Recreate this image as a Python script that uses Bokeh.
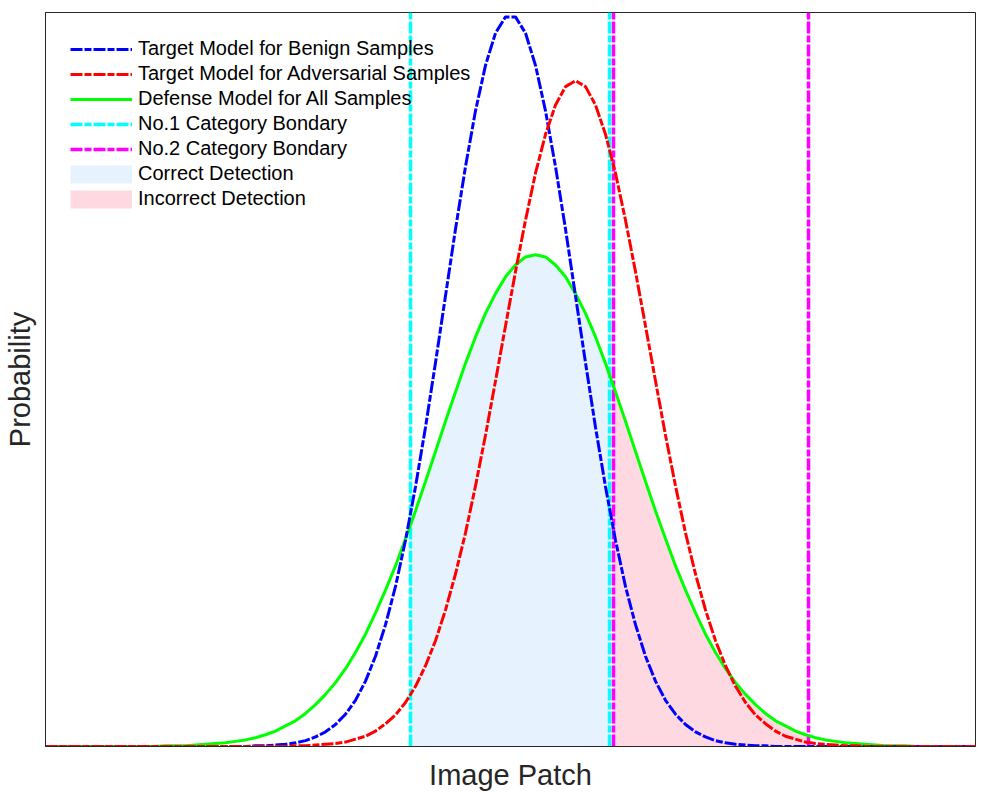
import numpy as np
from bokeh.plotting import figure
from bokeh.models import Range1d, Legend, LegendItem, FixedTicker
from bokeh.embed import file_html
from bokeh.resources import INLINE

# x positions (image patch index, arbitrary units)
x = list(range(0, 94))

benign = [0.0]*21 + [0.001, 0.001, 0.002, 0.003, 0.005, 0.008, 0.013, 0.020, 0.030,
          0.044, 0.063, 0.089, 0.123, 0.166, 0.218, 0.281, 0.354, 0.435, 0.523,
          0.614, 0.705, 0.790, 0.866, 0.928, 0.972, 0.994, 0.994, 0.972, 0.928,
          0.866, 0.790, 0.705, 0.614, 0.523, 0.435, 0.354, 0.281, 0.218, 0.166,
          0.123, 0.089, 0.063, 0.044, 0.030, 0.020, 0.013, 0.008, 0.005, 0.003,
          0.002, 0.001, 0.001] + [0.0]*21

adversarial = [0.0]*25 + [0.001, 0.001, 0.002, 0.003, 0.004, 0.006, 0.010, 0.014, 0.021,
               0.031, 0.043, 0.060, 0.082, 0.110, 0.144, 0.186, 0.235, 0.291, 0.355,
               0.424, 0.498, 0.573, 0.647, 0.717, 0.781, 0.834, 0.874, 0.899, 0.907,
               0.899, 0.874, 0.834, 0.781, 0.717, 0.647, 0.573, 0.498, 0.424, 0.355,
               0.291, 0.235, 0.186, 0.144, 0.110, 0.082, 0.060, 0.043, 0.031, 0.021,
               0.014, 0.010, 0.006, 0.004, 0.003, 0.002, 0.001, 0.001] + [0.0]*12

defense = [0.0]*12 + [0.001, 0.001, 0.001, 0.002, 0.003, 0.004, 0.005, 0.007, 0.009,
           0.012, 0.016, 0.021, 0.028, 0.035, 0.045, 0.057, 0.071, 0.087, 0.106,
           0.128, 0.153, 0.182, 0.213, 0.246, 0.283, 0.321, 0.361, 0.402, 0.443,
           0.483, 0.522, 0.558, 0.590, 0.617, 0.640, 0.656, 0.667, 0.670, 0.667,
           0.656, 0.640, 0.617, 0.590, 0.558, 0.522, 0.483, 0.443, 0.402, 0.361,
           0.321, 0.283, 0.246, 0.213, 0.182, 0.153, 0.128, 0.106, 0.087, 0.071,
           0.057, 0.045, 0.035, 0.028, 0.021, 0.016, 0.012, 0.009, 0.007, 0.005,
           0.004, 0.003, 0.002, 0.001, 0.001, 0.001] + [0.0]*7

boundary1 = [36.5, 56.4]   # No.1 category boundary
boundary2 = [56.8, 76.3]   # No.2 category boundary

labels = ["Target Model for Benign Samples", "Target Model for Adversarial Samples",
          "Defense Model for All Samples", "No.1 Category Bondary", "No.2 Category Bondary",
          "Correct Detection", "Incorrect Detection"]

xa = np.array(x, dtype=float)
ga = np.array(defense)

def region(a, b):
    inner = xa[(xa > a) & (xa < b)]
    xs = np.concatenate([[a], inner, [b]])
    ys = np.interp(xs, xa, ga)
    return xs, ys

FONT = "Liberation Sans"
DASH = "12 2 7 2"
C_OK = "#E6F2FD"
C_BAD = "#FFD9E2"

p = figure(output_backend="svg", toolbar_location=None,
           frame_width=930, frame_height=734,
           min_border_left=45, min_border_right=5, min_border_top=12, min_border_bottom=47,
           x_range=Range1d(0, 93), y_range=Range1d(0, 1.0))
p.xgrid.visible = False
p.ygrid.visible = False
p.outline_line_color = "#262626"
p.outline_line_width = 1
p.background_fill_color = "white"
p.border_fill_color = "white"

for ax in (p.xaxis[0], p.yaxis[0]):
    ax.ticker = FixedTicker(ticks=[])
    ax.major_tick_line_color = None
    ax.minor_tick_line_color = None
    ax.major_tick_out = 0
    ax.axis_line_color = "#262626"
    ax.axis_label_text_font = FONT
    ax.axis_label_text_font_size = "29px"
    ax.axis_label_text_font_style = "normal"
    ax.axis_label_text_color = "#262626"
p.xaxis.axis_label = "Image Patch"
p.yaxis.axis_label = "Probability"
p.xaxis.axis_label_standoff = 12
p.yaxis.axis_label_standoff = 10

xs1, ys1 = region(boundary1[0], boundary1[1])
p.varea(x=xs1, y1=0, y2=ys1, fill_color=C_OK, fill_alpha=1.0)
xs2, ys2 = region(boundary2[0], boundary2[1])
p.varea(x=xs2, y1=0, y2=ys2, fill_color=C_BAD, fill_alpha=1.0)

r_c = None
for b in boundary1:
    r_c = p.segment(x0=b, y0=0, x1=b, y1=1.0, line_color="#00FFFF", line_width=3.5, line_dash=DASH)
r_m = None
for b in boundary2:
    r_m = p.segment(x0=b, y0=0, x1=b, y1=1.0, line_color="#FF00FF", line_width=3.5, line_dash=DASH)

r_g = p.line(x, defense, line_color="#00FF00", line_width=3)
r_b = p.line(x, benign, line_color="#0000FF", line_width=3, line_dash=DASH)
r_r = p.line(x, adversarial, line_color="#FF0000", line_width=3, line_dash=DASH)

# legend swatch proxies for the filled areas (drawn outside the visible range)
leg_c = p.line(x=[-20, -19], y=[-1, -1], line_color=C_OK, line_width=18, line_cap="butt")
leg_i = p.line(x=[-20, -19], y=[-1, -1], line_color=C_BAD, line_width=18, line_cap="butt")

legend = Legend(items=[
    LegendItem(label=labels[0], renderers=[r_b]),
    LegendItem(label=labels[1], renderers=[r_r]),
    LegendItem(label=labels[2], renderers=[r_g]),
    LegendItem(label=labels[3], renderers=[r_c]),
    LegendItem(label=labels[4], renderers=[r_m]),
    LegendItem(label=labels[5], renderers=[leg_c]),
    LegendItem(label=labels[6], renderers=[leg_i]),
], location="top_left")
legend.background_fill_alpha = 0
legend.border_line_alpha = 0
legend.label_text_font = FONT
legend.label_text_font_size = "20px"
legend.label_text_color = "#000000"
legend.glyph_width = 62
legend.glyph_height = 20
legend.label_height = 20
legend.spacing = 2
legend.padding = 8
legend.margin = 17
legend.label_standoff = 6
p.add_layout(legend)

open("out.html", "w").write(file_html(p, INLINE))
